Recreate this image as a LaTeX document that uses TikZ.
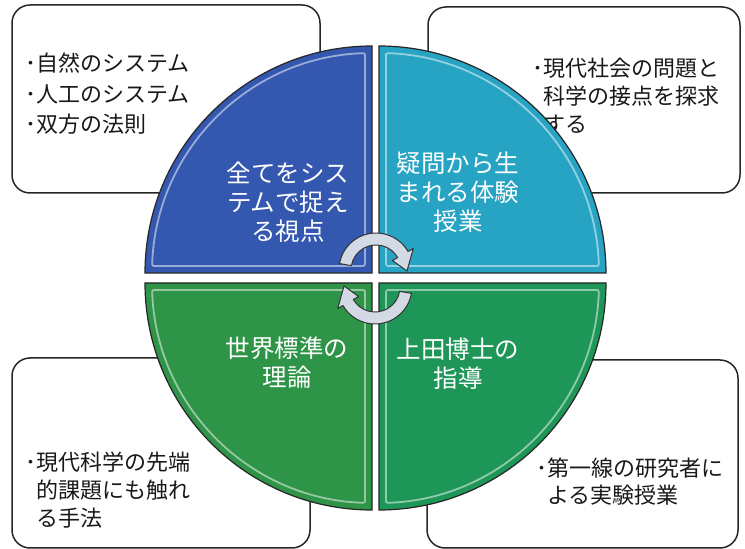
\documentclass[tikz,border=0pt]{standalone}
\usepackage{fontspec}
\newfontfamily\jp{Noto Sans CJK JP}
\definecolor{quadblue}{HTML}{3457B0}
\definecolor{quadcyan}{HTML}{27A3C3}
\definecolor{quadgreen}{HTML}{2E9447}
\definecolor{quadteal}{HTML}{1E9658}
\definecolor{arrowgray}{HTML}{D3DAE6}
\tikzset{
  infobox/.style={draw=black!85, line width=1.5pt, rounded corners=18pt, fill=white},
  quad/.style={draw=black!85, line width=1.2pt},
  bevel/.style={draw=white, draw opacity=0.5, line width=1.8pt, rounded corners=2pt},
  infotext/.style={anchor=north west, align=left, inner sep=0pt, text=black!90},
  quadtext/.style={anchor=north, align=center, inner sep=0pt, text=white,
    font=\jp\fontsize{24.5}{29}\selectfont},
  cyclearrow/.style={fill=arrowgray, draw=black!80, line width=1pt, line join=round},
}
\begin{document}
\begin{tikzpicture}[x=1pt, y=1pt]
  \useasboundingbox (0,0) rectangle (745,549);
  % boxes behind the circle
  \draw[infobox] (12,356) rectangle (320,544);
  \draw[infobox] (428,356) rectangle (740,542);
  \draw[infobox] (12,1) rectangle (310,191);
  \draw[infobox] (427,1) rectangle (738,189);
  \node[infotext, font=\jp\fontsize{22}{30.5}\selectfont] (sys) at (25,496)
    {･自然のシステム\\･人工のシステム\\･双方の法則};
  \node[infotext, font=\jp\fontsize{22}{28}\selectfont] (soc) at (532,491)
    {･現代社会の問題と\\\phantom{･}科学の接点を探求\\\phantom{･}する};
  \node[infotext, font=\jp\fontsize{22}{28}\selectfont] (adv) at (25,97)
    {･現代科学の先端\\\phantom{･}的課題にも触れ\\\phantom{･}る手法};
  \node[infotext, font=\jp\fontsize{22}{27}\selectfont] (lab) at (536,91)
    {･第一線の研究者に\\\phantom{･}よる実験授業};
  % quadrants
  \begin{scope}[shift={(372,276)}, rotate=90]
    \filldraw[quad, fill=quadblue] (0,0) -- (227,0) arc[start angle=0, end angle=90, radius=227] -- cycle;
    \draw[bevel] (7,7) -- (1.8:220) arc[start angle=1.8, end angle=88.2, radius=220] -- cycle;
  \end{scope}
  \begin{scope}[shift={(379,276)}]
    \filldraw[quad, fill=quadcyan] (0,0) -- (227,0) arc[start angle=0, end angle=90, radius=227] -- cycle;
    \draw[bevel] (7,7) -- (1.8:220) arc[start angle=1.8, end angle=88.2, radius=220] -- cycle;
  \end{scope}
  \begin{scope}[shift={(372,266)}, rotate=180]
    \filldraw[quad, fill=quadgreen] (0,0) -- (227,0) arc[start angle=0, end angle=90, radius=227] -- cycle;
    \draw[bevel] (7,7) -- (1.8:220) arc[start angle=1.8, end angle=88.2, radius=220] -- cycle;
  \end{scope}
  \begin{scope}[shift={(379,266)}, rotate=270]
    \filldraw[quad, fill=quadteal] (0,0) -- (227,0) arc[start angle=0, end angle=90, radius=227] -- cycle;
    \draw[bevel] (7,7) -- (1.8:220) arc[start angle=1.8, end angle=88.2, radius=220] -- cycle;
  \end{scope}
  \node[quadtext] (view) at (288,387) {全てをシス\\テムで捉え\\る視点};
  \node[quadtext] (exp) at (458,397) {疑問から生\\まれる体験\\授業};
  \node[quadtext] (theory) at (287,212) {世界標準の\\理論};
  \node[quadtext] (guide) at (458,211) {上田博士の\\指導};
  % cycle arrows
  \draw[cyclearrow, shift={(376,279)}] (170:37) arc[start angle=170, end angle=30, radius=37]
    -- (30:43) -- (-2:31) -- (30:19) -- (30:25) arc[start angle=30, end angle=170, radius=25] -- cycle;
  \draw[cyclearrow, shift={(375,262)}] (-10:37) arc[start angle=-10, end angle=-150, radius=37]
    -- (-150:43) -- (178:31) -- (-150:19) -- (-150:25) arc[start angle=-150, end angle=-10, radius=25] -- cycle;
\end{tikzpicture}
\end{document}
